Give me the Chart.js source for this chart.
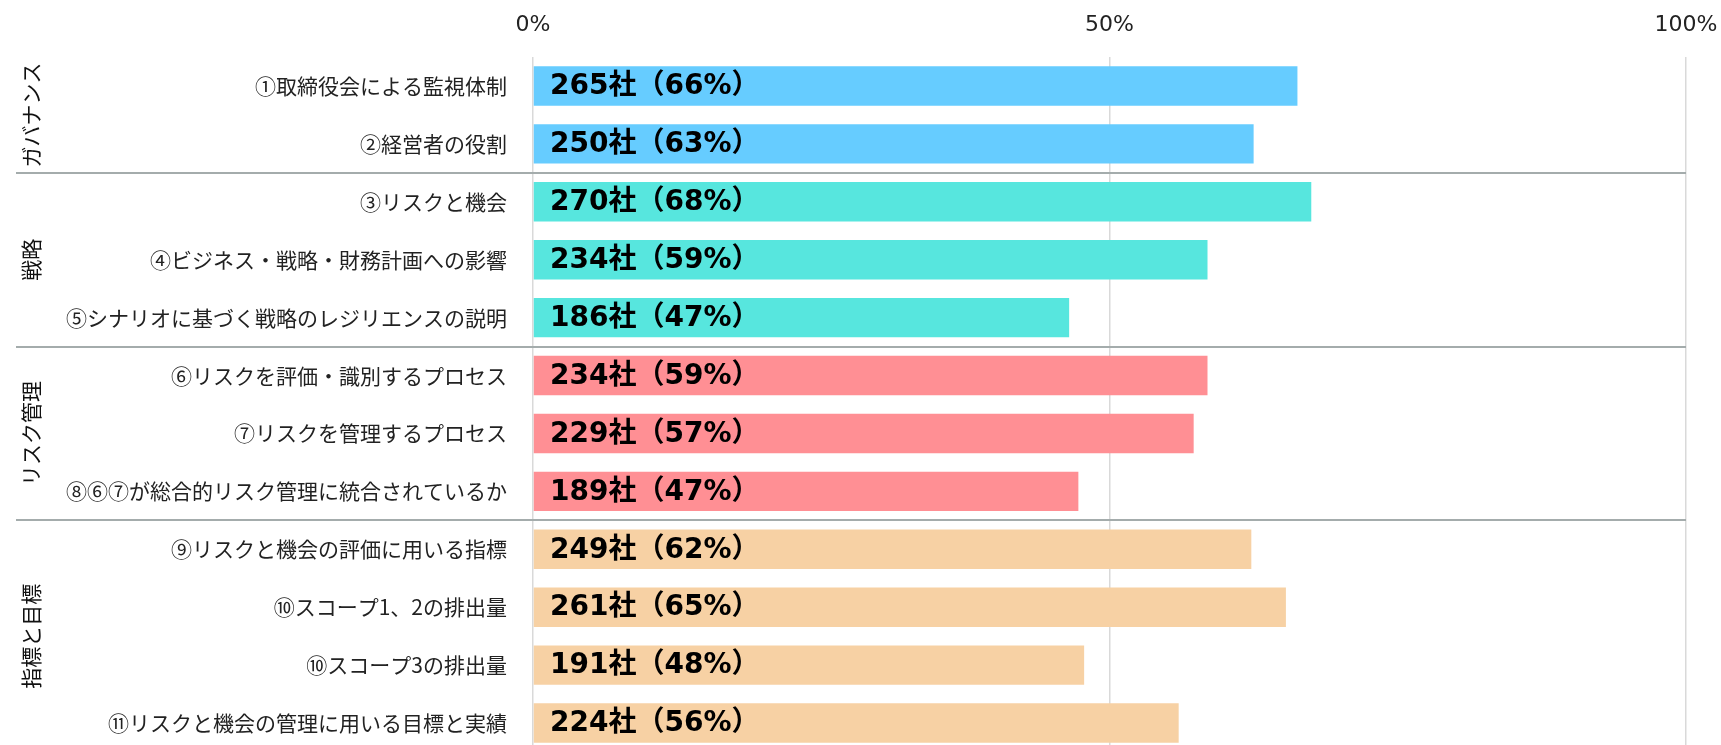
<!DOCTYPE html>
<html>
<head>
<meta charset="utf-8">
<script src="https://cdn.jsdelivr.net/npm/chart.js@4"></script>
<style>
  html, body { margin: 0; padding: 0; background: #fff; overflow: hidden; }
  #wrap { width: 1721px; height: 745px; overflow: hidden; position: relative; }
  #box { width: 1721px; height: 760px; position: relative; }
</style>
</head>
<body>
<div id="wrap"><div id="box"><canvas id="myChart"></canvas></div></div>
<script>
// data
const categories = [
  '①取締役会による監視体制',
  '②経営者の役割',
  '③リスクと機会',
  '④ビジネス・戦略・財務計画への影響',
  '⑤シナリオに基づく戦略のレジリエンスの説明',
  '⑥リスクを評価・識別するプロセス',
  '⑦リスクを管理するプロセス',
  '⑧⑥⑦が総合的リスク管理に統合されているか',
  '⑨リスクと機会の評価に用いる指標',
  '⑩スコープ1、2の排出量',
  '⑩スコープ3の排出量',
  '⑪リスクと機会の管理に用いる目標と実績'
];
const shares = [66.3, 62.5, 67.5, 58.5, 46.5, 58.5, 57.3, 47.3, 62.3, 65.3, 47.8, 56.0];
const counts = [265, 250, 270, 234, 186, 234, 229, 189, 249, 261, 191, 224];
const pctLabels = [66, 63, 68, 59, 47, 59, 57, 47, 62, 65, 48, 56];

const groupNames = ['ガバナンス', '戦略', 'リスク管理', '指標と目標'];
const groupSizes = [2, 3, 3, 4];
const groupColors = ['#66CCFF', '#57E6DE', '#FF8F94', '#F7D1A4'];

const tickValues = [0, 50, 100];

const FONT = '"Noto Sans CJK JP", "Noto Sans", sans-serif';
const NUMFONT = '"DejaVu Sans", "Noto Sans CJK JP", sans-serif';

var barColors = [];
groupSizes.forEach((n, g) => {
  for (let i = 0; i < n; i++) barColors.push(groupColors[g]);
});

const extras = {
  id: 'extras',
  afterDatasetsDraw(chart) {
    const ctx = chart.ctx;
    const xs = chart.scales.x;
    const meta = chart.getDatasetMeta(0);
    ctx.save();
    ctx.font = 'bold 28px ' + NUMFONT;
    ctx.fillStyle = '#000';
    ctx.textAlign = 'left';
    ctx.textBaseline = 'middle';
    meta.data.forEach((bar, i) => {
      ctx.fillText(counts[i] + '社（' + pctLabels[i] + '%）', xs.getPixelForValue(0) + 17, bar.y + 1);
    });
    ctx.restore();
  },
  afterDraw(chart) {
    const ctx = chart.ctx;
    const ys = chart.scales.y;
    const xs = chart.scales.x;
    const step = ys.getPixelForValue(1) - ys.getPixelForValue(0);
    ctx.save();
    var start = 0;
    groupSizes.forEach((n, g) => {
      const top = ys.getPixelForValue(start) - step / 2;
      const bottom = ys.getPixelForValue(start + n - 1) + step / 2;
      // group title, rotated
      ctx.save();
      ctx.translate(31, (top + bottom) / 2);
      ctx.rotate(-Math.PI / 2);
      ctx.font = '21px ' + FONT;
      ctx.fillStyle = '#111';
      ctx.textAlign = 'center';
      ctx.textBaseline = 'middle';
      ctx.fillText(groupNames[g], 0, 0);
      ctx.restore();
      // separator under the group
      if (g < groupSizes.length - 1) {
        ctx.strokeStyle = '#A4ACAC';
        ctx.lineWidth = 2;
        ctx.beginPath();
        ctx.moveTo(16, Math.round(bottom));
        ctx.lineTo(xs.getPixelForValue(100), Math.round(bottom));
        ctx.stroke();
      }
      start += n;
    });
    ctx.restore();
  }
};

const ctx = document.getElementById('myChart');
const myChart = new Chart(ctx, {
  type: 'bar',
  data: {
    labels: categories,
    datasets: [{
      data: shares,
      backgroundColor: barColors,
      barPercentage: 0.68,
      categoryPercentage: 1
    }]
  },
  options: {
    indexAxis: 'y',
    responsive: true,
    maintainAspectRatio: false,
    animation: false,
    layout: { padding: { left: 0, right: 35, top: 0, bottom: 8 } },
    plugins: {
      legend: { display: false },
      tooltip: { enabled: false }
    },
    scales: {
      x: {
        position: 'top',
        min: 0,
        max: 100,
        afterBuildTicks: (scale) => { scale.ticks = tickValues.map(v => ({ value: v })); },
        afterFit: (scale) => { scale.height = 57; scale.paddingLeft = 0; scale.paddingRight = 0; },
        border: { display: false },
        grid: { color: '#D9D9D9', lineWidth: 1.5, drawTicks: false },
        ticks: {
          padding: 19,
          color: '#222',
          font: { family: NUMFONT, size: 22 },
          callback: (v) => v + '%'
        }
      },
      y: {
        afterFit: (scale) => { scale.width = 533; scale.paddingTop = 0; scale.paddingBottom = 0; },
        border: { display: false },
        grid: { display: false, drawTicks: false },
        ticks: {
          autoSkip: false,
          padding: 26,
          color: '#222',
          font: { family: FONT, size: 21 }
        }
      }
    }
  },
  plugins: [extras]
});
</script>
</body>
</html>
